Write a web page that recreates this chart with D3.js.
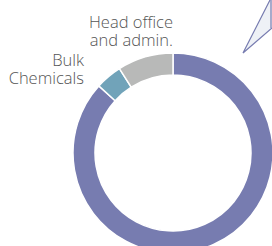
<!DOCTYPE html>
<html>
<head>
<meta charset="utf-8">
<script src="https://cdn.jsdelivr.net/npm/d3@7"></script>
<style>
    body { margin: 0; background: #fff; }
    text { font-family: "Open Sans", sans-serif; font-weight: 300; fill: #555; }
</style>
</head>
<body>
<svg width="272" height="246"></svg>
<script>
// segments, clockwise from 12 o'clock
let segments = ["Other divisions", "Bulk Chemicals", "Head office and admin."];
let shares = [86.7, 4.3, 9.0];
let colors = ["#777cb0", "#71a3b9", "#b8b9b8"];
let labelLines = [[], ["Bulk", "Chemicals"], ["Head office", "and admin."]];

let svg = d3.select("svg");
let cx = 173, cy = 153;
let outer = 100, inner = 78;

// callout wedge pointing to a box off to the right
svg.append("path")
    .attr("d", "M243,53 L270,0 L272,0 L272,28 Z")
    .attr("fill", "#eef1f6")
    .attr("stroke", "none");
svg.append("path")
    .attr("d", "M270,0 L243,53 L272,28")
    .attr("fill", "none")
    .attr("stroke", "#777cb0")
    .attr("stroke-width", 1.2);
svg.append("line")
    .attr("x1", 271).attr("y1", 0).attr("x2", 271).attr("y2", 28)
    .attr("stroke", "#777cb0")
    .attr("stroke-width", 1.2);

let pie = d3.pie().sort(null).value(d => d.v);
let arc = d3.arc().innerRadius(inner).outerRadius(outer);

let data = segments.map((s, i) => ({name: s, v: shares[i], color: colors[i]}));

let g = svg.append("g").attr("transform", "translate(" + cx + "," + cy + ")");
g.selectAll("path")
    .data(pie(data))
    .enter().append("path")
    .attr("d", arc)
    .attr("fill", d => d.data.color)
    .attr("stroke", "#fff")
    .attr("stroke-width", 1.5);

// labels
let lab = svg.append("g");
// Head office label, right edge at the top of the ring
let t1 = lab.append("text").attr("text-anchor", "end").attr("font-size", 16.5);
labelLines[2].forEach((l, i) => {
    t1.append("tspan").attr("x", 173).attr("y", 28 + i * 18).text(l);
});
let t2 = lab.append("text").attr("text-anchor", "end").attr("font-size", 16.5);
labelLines[1].forEach((l, i) => {
    t2.append("tspan").attr("x", 84).attr("y", 66 + i * 18).text(l);
});
</script>
</body>
</html>
